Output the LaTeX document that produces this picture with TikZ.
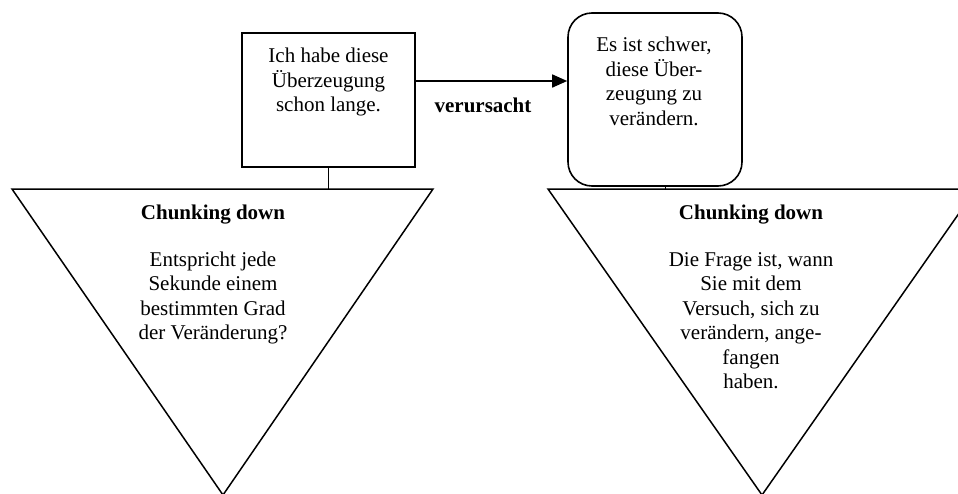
\documentclass[tikz,border=0pt]{standalone}
\usepackage{fontspec}
\setmainfont{Liberation Serif}
\usetikzlibrary{arrows.meta}
\begin{document}
\begin{tikzpicture}[x=1pt,y=-1pt,
  every node/.style={font=\fontsize{21}{24.5}\selectfont},
  frame/.style={draw, line width=1.6pt, inner sep=0pt},
  txt/.style={inner sep=0pt, align=center},
  funnel/.style={draw, line width=1.5pt, line join=miter},
  link/.style={line width=1.4pt}]
\useasboundingbox (0,0) rectangle (958,493);

% upper boxes
\node[frame, minimum width=173pt, minimum height=134pt] (belief) at (328.5,100) {};
\node[txt, anchor=north] (beliefText) at (328.5,48)
  {Ich habe diese\\Überzeugung\\schon lange.};

\node[frame, rounded corners=24pt, minimum width=174pt, minimum height=173pt] (doubt) at (655,99.5) {};
\node[txt, anchor=north] (doubtText) at (654,37)
  {Es ist schwer,\\diese Über-\\zeugung zu\\verändern.};

% causal arrow
\draw[line width=1.6pt, -{Triangle[length=15pt,width=13pt]}]
  (belief.east |- 0,81) -- (doubt.west |- 0,81);
\node[txt, font=\fontsize{21}{24.5}\selectfont\bfseries] (cause) at (483,105) {verursacht};

% chunking-down funnels
\coordinate (lA) at (12,189);  \coordinate (lB) at (433,189);  \coordinate (lC) at (223,495);
\coordinate (rA) at (548,189); \coordinate (rB) at (976,189);  \coordinate (rC) at (762,495);
\draw[funnel] (lA) -- (lB) -- (lC) -- cycle;
\draw[funnel] (rA) -- (rB) -- (rC) -- cycle;

\draw[link] (belief.south) -- (belief.south |- lA);
\draw[line width=1pt] (665,186) -- (665,189);

\node[txt, anchor=north] (leftText) at (213,205)
  {\textbf{Chunking down}\\[22pt]Entspricht jede\\Sekunde einem\\bestimmten Grad\\der Veränderung?};
\node[txt, anchor=north] (rightText) at (751,205)
  {\textbf{Chunking down}\\[22pt]Die Frage ist, wann\\Sie mit dem\\Versuch, sich zu\\verändern, ange-\\fangen\\haben.};
\end{tikzpicture}
\end{document}
